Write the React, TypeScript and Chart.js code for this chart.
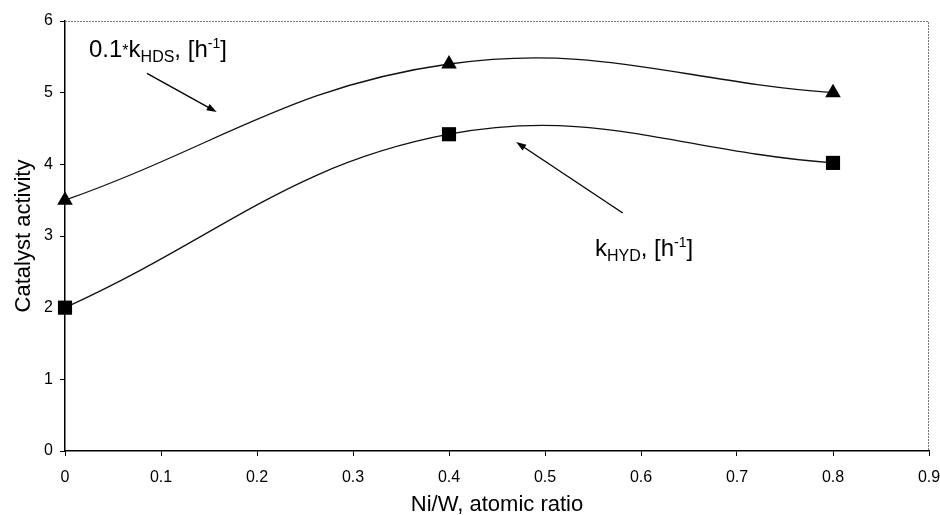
import React, { useEffect, useRef } from 'react';
import { Chart, registerables } from 'chart.js';

Chart.register(...registerables);

// ---- data ----
const xValues = [0, 0.4, 0.8];
const hdsValues = [3.5, 5.4, 5.0];   // 0.1*kHDS
const hydValues = [2.0, 4.42, 4.02]; // kHYD
const xTickLabels = ['0', '0.1', '0.2', '0.3', '0.4', '0.5', '0.6', '0.7', '0.8', '0.9'];
const yTickLabels = ['0', '1', '2', '3', '4', '5', '6'];
const xTitle = 'Ni/W, atomic ratio';
const yTitle = 'Catalyst activity';

// annotation labels (data coordinates)
const hdsLabel = [
  { text: '0.1', kind: 'n' },
  { text: '*', kind: 'ast' },
  { text: 'k', kind: 'n' },
  { text: 'HDS', kind: 'sub' },
  { text: ', [h', kind: 'n' },
  { text: '-1', kind: 'sup' },
  { text: ']', kind: 'n' },
];
const hdsLabelPos = [0.025, 5.5];
const hdsArrow = [[0.0854, 5.27], [0.158, 4.73]];

const hydLabel = [
  { text: 'k', kind: 'n' },
  { text: 'HYD', kind: 'sub' },
  { text: ', [h', kind: 'n' },
  { text: '-1', kind: 'sup' },
  { text: ']', kind: 'n' },
];
const hydLabelPos = [0.552, 2.72];
const hydArrow = [[0.581, 3.32], [0.47, 4.31]];

const FONT = '"Liberation Sans", Arial, Helvetica, sans-serif';

function drawRich(ctx: CanvasRenderingContext2D, segs: any[], x: number, y: number) {
  let cx = x;
  ctx.textBaseline = 'alphabetic';
  ctx.textAlign = 'left';
  ctx.fillStyle = '#000';
  for (const s of segs) {
    let size = 24;
    let dy = 0;
    if (s.kind === 'sub') { size = 16; dy = 5; }
    if (s.kind === 'sup') { size = 14; dy = -9; }
    if (s.kind === 'ast') { size = 16; dy = -1; }
    ctx.font = `${size}px ${FONT}`;
    ctx.fillText(s.text, cx, y + dy);
    cx += ctx.measureText(s.text).width;
  }
}

function drawArrow(ctx: CanvasRenderingContext2D, x1: number, y1: number, x2: number, y2: number) {
  const ang = Math.atan2(y2 - y1, x2 - x1);
  const len = 10, hw = 3.5;
  ctx.strokeStyle = '#000';
  ctx.lineWidth = 1.3;
  ctx.beginPath();
  ctx.moveTo(x1, y1);
  ctx.lineTo(x2 - Math.cos(ang) * len * 0.8, y2 - Math.sin(ang) * len * 0.8);
  ctx.stroke();
  ctx.fillStyle = '#000';
  ctx.beginPath();
  ctx.moveTo(x2, y2);
  ctx.lineTo(x2 - Math.cos(ang) * len - Math.sin(ang) * hw, y2 - Math.sin(ang) * len + Math.cos(ang) * hw);
  ctx.lineTo(x2 - Math.cos(ang) * len + Math.sin(ang) * hw, y2 - Math.sin(ang) * len - Math.cos(ang) * hw);
  ctx.closePath();
  ctx.fill();
}

const framePlugin = {
  id: 'frame',
  beforeDatasetsDraw(chart: any) {
    const { ctx, chartArea } = chart;
    ctx.save();
    ctx.strokeStyle = '#777';
    ctx.lineWidth = 1;
    ctx.setLineDash([2, 1]);
    ctx.beginPath();
    ctx.moveTo(chartArea.left, chartArea.top + 0.5);
    ctx.lineTo(chartArea.right - 0.5, chartArea.top + 0.5);
    ctx.lineTo(chartArea.right - 0.5, chartArea.bottom);
    ctx.stroke();
    ctx.restore();
  },
};

const annotationPlugin = {
  id: 'annot',
  afterDatasetsDraw(chart: any) {
    const { ctx } = chart;
    const xs = chart.scales.x, ys = chart.scales.y;
    const px = (v: number) => xs.getPixelForValue(v);
    const py = (v: number) => ys.getPixelForValue(v);
    ctx.save();
    drawRich(ctx, hdsLabel, px(hdsLabelPos[0]), py(hdsLabelPos[1]));
    drawRich(ctx, hydLabel, px(hydLabelPos[0]), py(hydLabelPos[1]));
    drawArrow(ctx, px(hdsArrow[0][0]), py(hdsArrow[0][1]), px(hdsArrow[1][0]), py(hdsArrow[1][1]));
    drawArrow(ctx, px(hydArrow[0][0]), py(hydArrow[0][1]), px(hydArrow[1][0]), py(hydArrow[1][1]));
    ctx.restore();
  },
};

export default function App() {
  const ref = useRef<HTMLCanvasElement>(null);
  useEffect(() => {
    if (!ref.current) return;
    const mk = (vals: number[]) => xValues.map((x, i) => ({ x, y: vals[i] }));
    const chart = new Chart(ref.current, {
      type: 'line',
      data: {
        datasets: [
          {
            label: '0.1*kHDS',
            data: mk(hdsValues),
            borderColor: '#111',
            borderWidth: 1.3,
            tension: 0.4,
            pointStyle: 'triangle',
            pointRadius: 9,
            pointBackgroundColor: '#000',
            pointBorderWidth: 0,
            clip: false as any,
          },
          {
            label: 'kHYD',
            data: mk(hydValues),
            borderColor: '#111',
            borderWidth: 1.3,
            tension: 0.4,
            pointStyle: 'rect',
            pointRadius: 10,
            pointBackgroundColor: '#000',
            pointBorderWidth: 0,
            clip: false as any,
          },
        ],
      },
      options: {
        animation: false,
        responsive: false,
        devicePixelRatio: 1,
        layout: { padding: { top: 21, right: 11, left: 0, bottom: -3 } },
        plugins: { legend: { display: false }, tooltip: { enabled: false } },
        scales: {
          x: {
            type: 'linear',
            min: 0,
            max: 0.9,
            ticks: {
              stepSize: 0.1,
              autoSkip: false,
              maxRotation: 0,
              padding: 12,
              color: '#000',
              font: { family: FONT, size: 16 },
              callback: (_v: any, i: number) => xTickLabels[i],
            },
            grid: { drawOnChartArea: false, drawTicks: true, tickLength: 5, color: '#000', lineWidth: 1 },
            border: { display: true, color: '#000', width: 1.5 },
            title: {
              display: true,
              text: xTitle,
              color: '#000',
              font: { family: FONT, size: 22 },
              padding: { top: 0, bottom: 0 },
            },
            afterFit: (s: any) => {
              s.height = 67;
              s.paddingLeft = 0;
              s.paddingRight = 0;
            },
          },
          y: {
            type: 'linear',
            min: 0,
            max: 6,
            ticks: {
              stepSize: 1,
              padding: 7,
              color: '#000',
              font: { family: FONT, size: 16 },
              callback: (_v: any, i: number) => yTickLabels[i],
            },
            grid: { drawOnChartArea: false, drawTicks: true, tickLength: 5, color: '#000', lineWidth: 1 },
            border: { display: true, color: '#000', width: 1.5 },
            title: {
              display: true,
              text: yTitle,
              color: '#000',
              font: { family: FONT, size: 22 },
              padding: { top: 11, bottom: 0 },
            },
            afterFit: (s: any) => {
              s.width = 65;
              s.paddingTop = 0;
              s.paddingBottom = 0;
            },
          },
        },
      },
      plugins: [framePlugin, annotationPlugin],
    });
    return () => chart.destroy();
  }, []);
  return (
    <div style={{ position: 'fixed', left: 0, top: 0, width: 940, height: 515, background: '#fff' }}>
      <canvas ref={ref} width={940} height={515} style={{ width: 940, height: 515, display: 'block' }} />
    </div>
  );
}
